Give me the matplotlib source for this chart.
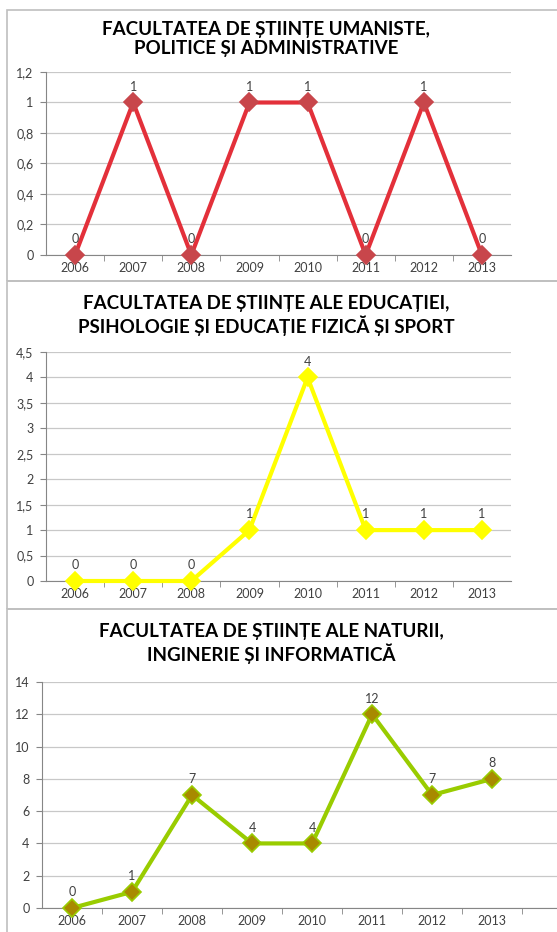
import matplotlib
matplotlib.use("Agg")
import matplotlib.pyplot as plt
from matplotlib.patches import Rectangle
from matplotlib.ticker import FuncFormatter
import numpy as np

plt.rcParams['font.family'] = ['Lato', 'DejaVu Sans']

years = ["2006", "2007", "2008", "2009", "2010", "2011", "2012", "2013"]
umaniste = [0, 1, 0, 1, 1, 0, 1, 0]
educatiei = [0, 0, 0, 1, 4, 1, 1, 1]
naturii = [0, 1, 7, 4, 4, 12, 7, 8]

titles = [
    "FACULTATEA DE ȘTIINȚE UMANISTE,\nPOLITICE ȘI ADMINISTRATIVE",
    "FACULTATEA DE ȘTIINȚE ALE EDUCAȚIEI,\nPSIHOLOGIE ȘI EDUCAȚIE FIZICĂ ȘI SPORT",
    "FACULTATEA DE ȘTIINȚE ALE NATURII,\nINGINERIE ȘI INFORMATICĂ",
]

W, H = 557, 932
fig = plt.figure(figsize=(W / 100, H / 100), dpi=100)

def fx(px):
    return px / W

def fy(py):
    return 1 - py / H

# chart boxes
for (top, bot) in [(10, 281), (281, 609), (609, 940)]:
    fig.patches.append(Rectangle((fx(7), fy(bot)), fx(600), (bot - top) / H,
                                 transform=fig.transFigure, fill=False,
                                 edgecolor="#BFBFBF", linewidth=1.2))

def fmt(v, pos):
    s = ("%.1f" % v).rstrip("0").rstrip(".")
    return s.replace(".", ",")

panels = [
    dict(data=umaniste, rect=(46, 511, 72, 255), ylim=(0, 1.2), step=0.2,
         line="#E3303A", mface="#C8464B", medge="#C8464B", xmax=7.5,
         title_y=39, title_x=266),
    dict(data=educatiei, rect=(46, 511, 352, 581), ylim=(0, 4.5), step=0.5,
         line="#FFFF00", mface="#FFFF00", medge="#FFFF00", xmax=7.5,
         title_y=315, title_x=266),
    dict(data=naturii, rect=(42, 557, 682, 908), ylim=(0, 14), step=2,
         line="#99CC00", mface="#A88A00", medge="#99CC00", xmax=8.08,
         title_y=644, title_x=271),
]

for p, title in zip(panels, titles):
    l, r, t, b = p["rect"]
    ax = fig.add_axes([fx(l), fy(b), (r - l) / W, (b - t) / H])
    x = np.arange(len(years))
    ax.plot(x, p["data"], color=p["line"], linewidth=3.0, zorder=3,
            marker="D", markersize=9, markerfacecolor=p["mface"],
            markeredgecolor=p["medge"], markeredgewidth=1.2, clip_on=False)
    for xi, v in zip(x, p["data"]):
        ax.annotate(str(v), (xi, v), xytext=(0, 7), textcoords="offset points",
                    ha="center", va="bottom", fontsize=9, color="#404040")
    ax.set_xlim(-0.5, p["xmax"])
    ax.set_ylim(*p["ylim"])
    yt = np.arange(0, p["ylim"][1] + 1e-9, p["step"])
    ax.set_yticks(yt)
    ax.yaxis.set_major_formatter(FuncFormatter(fmt))
    ax.set_xticks(x)
    ax.set_xticklabels(years)
    ax.set_xticks(np.arange(0.5, p["xmax"], 1.0), minor=True)
    ax.tick_params(axis="x", which="major", length=0, labelsize=9,
                   labelcolor="#404040", pad=5)
    ax.tick_params(axis="x", which="minor", length=4, color="#868686",
                   direction="out")
    ax.tick_params(axis="y", length=4, color="#868686", labelsize=9,
                   labelcolor="#404040", pad=5)
    ax.grid(axis="y", color="#C8C8C8", linewidth=0.9)
    ax.set_axisbelow(True)
    for s in ["top", "right"]:
        ax.spines[s].set_visible(False)
    ax.spines["left"].set_color("#868686")
    ax.spines["bottom"].set_color("#868686")
    ax.patch.set_alpha(0)
    fig.text(fx(p["title_x"]), fy(p["title_y"]), title, ha="center", va="center",
             fontsize=13.5, fontweight="bold", color="#000000", linespacing=1.2)

fig.savefig("out.png", dpi=100)
